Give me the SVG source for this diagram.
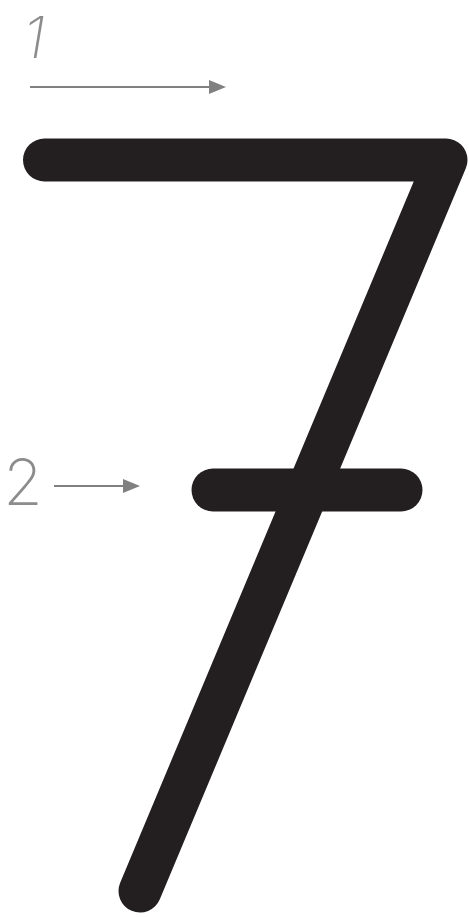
<svg xmlns="http://www.w3.org/2000/svg" width="469" height="917" viewBox="0 0 469 917">
  <style>
    .stroke { fill: none; stroke: #231f20; stroke-width: 43; stroke-linecap: round; stroke-linejoin: round; }
    .label { font-family: Inter, "Liberation Sans", sans-serif; font-weight: 200; fill: #8c8c8c; }
    .arrow { stroke: #808080; stroke-width: 2.2; fill: none; }
  </style>
  <defs>
    <marker id="ah" markerUnits="userSpaceOnUse" markerWidth="18" markerHeight="15" refX="7" refY="7" orient="auto">
      <path d="M0,0 L17,7 L0,14 z" fill="#808080"/>
    </marker>
  </defs>
  <rect width="469" height="917" fill="#ffffff"/>
  <g id="stroke1">
    <path class="stroke" d="M44.5,160 L446,160 L140,891"/>
  </g>
  <g id="stroke2">
    <path class="stroke" d="M213,490 L401,490"/>
  </g>
  <g id="label1">
    <text class="label" x="34" y="58" font-size="58" font-style="italic" text-anchor="middle">1</text>
  </g>
  <g id="label2">
    <text class="label" x="23" y="505" font-size="64" text-anchor="middle">2</text>
  </g>
  <g id="connectors">
    <line class="arrow" x1="30" y1="87" x2="216" y2="87" marker-end="url(#ah)"/>
    <line class="arrow" x1="54" y1="486" x2="130" y2="486" marker-end="url(#ah)"/>
  </g>
</svg>
